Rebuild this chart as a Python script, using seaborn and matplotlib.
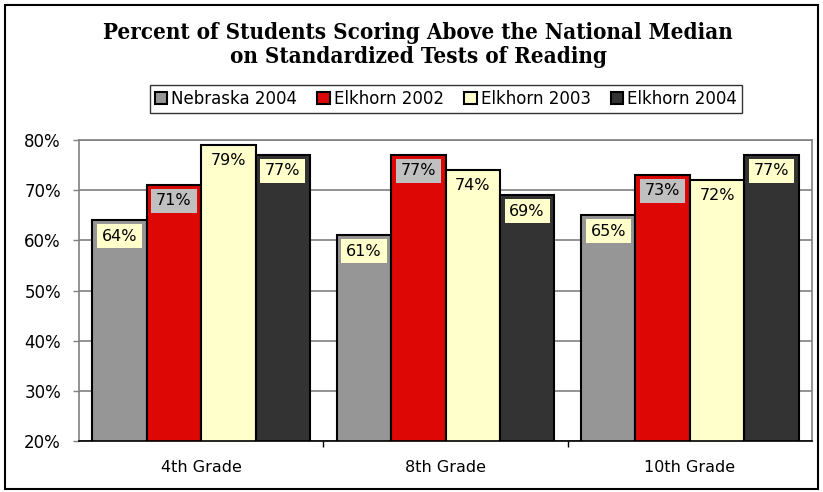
import matplotlib
matplotlib.use("Agg")
import matplotlib.pyplot as plt
from matplotlib.patches import Rectangle
from matplotlib import font_manager
import seaborn as sns
import pandas as pd

grades = ["4th Grade", "8th Grade", "10th Grade"]
series = ["Nebraska 2004", "Elkhorn 2002", "Elkhorn 2003", "Elkhorn 2004"]
nebraska_2004 = [64, 61, 65]
elkhorn_2002 = [71, 77, 73]
elkhorn_2003 = [79, 74, 72]
elkhorn_2004 = [77, 69, 77]
yticks = [20, 30, 40, 50, 60, 70, 80]

colors = ["#969696", "#DD0806", "#FFFFCC", "#333333"]
label_bg = ["#FFFFCC", "#C0C0C0", "#FFFFCC", "#FFFFCC"]

rows = []
for s, vals in zip(series, [nebraska_2004, elkhorn_2002, elkhorn_2003, elkhorn_2004]):
    for g, v in zip(grades, vals):
        rows.append({"grade": g, "series": s, "pct": v})
df = pd.DataFrame(rows)

sns.set_theme(style="white")
plt.rcParams["font.family"] = ["DejaVu Sans"]
plt.rcParams["text.color"] = "black"
plt.rcParams["xtick.color"] = "black"
plt.rcParams["ytick.color"] = "black"

# condensed bold serif for the title, if available
cond = [f.fname for f in font_manager.fontManager.ttflist if "SerifCondensed-Bold" in f.fname.replace(" ", "")]
if cond:
    title_font = font_manager.FontProperties(fname=cond[0], size=16)
else:
    title_font = font_manager.FontProperties(family="DejaVu Serif", weight="bold", size=14)

W, H = 823, 492
fig = plt.figure(figsize=(W / 100, H / 100), dpi=100)
ax = fig.add_axes([79 / W, (H - 441) / H, (812 - 79) / W, (441 - 140) / H])

sns.barplot(data=df, x="grade", y="pct", hue="series", order=grades,
            hue_order=series, palette=colors, width=0.89, saturation=1,
            edgecolor="black", linewidth=1.5, ax=ax)

handles, labels = ax.get_legend_handles_labels()
ax.get_legend().remove()

ax.set_ylim(20, 80)
ax.set_xlim(-0.5, 2.5)
ax.set_yticks(yticks)
ax.set_yticklabels([f"{t}%" for t in yticks], fontsize=12)
ax.set_xlabel("")
ax.set_ylabel("")
ax.yaxis.grid(True, color="#808080", linewidth=1.2)
ax.set_axisbelow(True)

ax.set_xticks([0, 1, 2])
ax.set_xticklabels(grades, fontsize=11.5)
ax.set_xticks([0.5, 1.5], minor=True)
ax.tick_params(axis="x", which="major", length=0, pad=14)
ax.tick_params(axis="x", which="minor", length=4, width=1, color="black", direction="out", bottom=True)
ax.tick_params(axis="y", length=4, width=1, color="#808080", direction="out", left=True, pad=9)

for side in ["top", "right", "left"]:
    ax.spines[side].set_color("#808080")
    ax.spines[side].set_linewidth(1.2)
ax.spines["bottom"].set_color("black")
ax.spines["bottom"].set_linewidth(1.2)

for i, cont in enumerate(ax.containers):
    for bar in cont:
        h = bar.get_height()
        xc = bar.get_x() + bar.get_width() / 2
        ax.annotate(f"{h:.0f}%", (xc, h), xytext=(0, -6), textcoords="offset points",
                    ha="center", va="top", fontsize=11.5, color="black",
                    bbox=dict(boxstyle="square,pad=0.3", fc=label_bg[i], ec="none"))

fig.text(0.508, 1 - 22 / H,
         "Percent of Students Scoring Above the National Median\non Standardized Tests of Reading",
         ha="center", va="top", fontproperties=title_font, color="black", linespacing=1.1)

fig.legend(handles, labels, loc="center", bbox_to_anchor=(446 / W, 1 - 99 / H),
           ncol=4, fontsize=12, frameon=True, fancybox=False, edgecolor="black",
           handlelength=0.75, handleheight=0.75, handletextpad=0.25, columnspacing=1.2,
           borderpad=0.3, borderaxespad=0)

fig.patches.append(Rectangle((5 / W, 3 / H), (818 - 5) / W, (H - 8) / H,
                             transform=fig.transFigure, fill=False,
                             edgecolor="black", linewidth=1.5))

fig.savefig("out.png", dpi=100)
